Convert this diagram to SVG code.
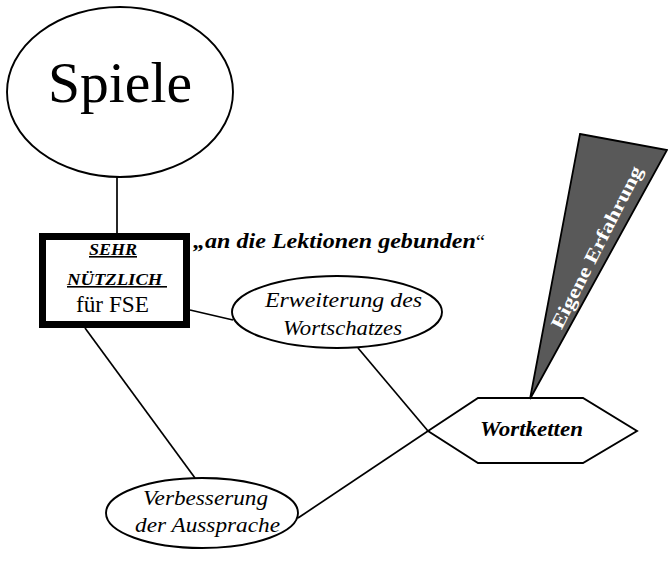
<svg xmlns="http://www.w3.org/2000/svg" width="668" height="566" viewBox="0 0 668 566" font-family="'Liberation Serif', 'Times New Roman', serif">
<style>
.ln{stroke:#000;stroke-width:1.7;fill:none}
.sh{fill:#fff;stroke:#000;stroke-width:1.9}
text{font-family:'Liberation Serif','Times New Roman',serif;fill:#000}
.it{font-style:italic}
.bi{font-style:italic;font-weight:bold}
</style>
<rect width="668" height="566" fill="#fff"/>
<g id="connectors">
<line class="ln" x1="117" y1="176" x2="117" y2="233"/>
<line class="ln" x1="190" y1="310" x2="233" y2="320"/>
<line class="ln" x1="85" y1="328" x2="195" y2="478"/>
<line class="ln" x1="358" y1="348" x2="428" y2="431"/>
<line class="ln" x1="298" y1="518" x2="428" y2="431"/>
</g>
<g id="spiele">
<ellipse class="sh" cx="120" cy="92" rx="113" ry="85"/>
<text x="48" y="102" font-size="58" textLength="144" lengthAdjust="spacingAndGlyphs">Spiele</text>
</g>
<g id="sehr">
<rect x="42.5" y="236.5" width="144" height="88" fill="#fff" stroke="#000" stroke-width="7"/>
<text class="bi" x="89" y="255" font-size="16" textLength="48" lengthAdjust="spacingAndGlyphs" text-decoration="underline">SEHR</text>
<text class="bi" x="67" y="285" font-size="16" textLength="100" lengthAdjust="spacingAndGlyphs" text-decoration="underline" xml:space="preserve">NÜTZLICH </text>
<text x="76" y="312" font-size="23" textLength="73" lengthAdjust="spacingAndGlyphs">für FSE</text>
</g>
<g id="quote">
<text x="193" y="248" font-size="22" textLength="292" lengthAdjust="spacingAndGlyphs"><tspan class="bi">„an die Lektionen gebunden</tspan><tspan font-size="19">“</tspan></text>
</g>
<g id="erweiterung">
<ellipse class="sh" cx="337" cy="312" rx="105" ry="36"/>
<text class="it" x="265" y="307" font-size="20" textLength="157" lengthAdjust="spacingAndGlyphs">Erweiterung des</text>
<text class="it" x="283" y="335" font-size="20" textLength="119" lengthAdjust="spacingAndGlyphs">Wortschatzes</text>
</g>
<g id="verbesserung">
<ellipse class="sh" cx="202" cy="513" rx="96" ry="35"/>
<text class="it" x="143" y="505" font-size="20" textLength="125" lengthAdjust="spacingAndGlyphs">Verbesserung</text>
<text class="it" x="135" y="532" font-size="20" textLength="145" lengthAdjust="spacingAndGlyphs">der Aussprache</text>
</g>
<g id="wortketten">
<polygon class="sh" points="428,431 478,398 583,398 637,431 583,463 478,463"/>
<text class="bi" x="480" y="436" font-size="20" textLength="103" lengthAdjust="spacingAndGlyphs">Wortketten</text>
</g>
<g id="erfahrung">
<polygon points="580,134 667,150 530,399" fill="#595959" stroke="#000" stroke-width="1.8"/>
<text x="-90" y="7" font-size="19" font-weight="bold" style="fill:#fff" textLength="180" lengthAdjust="spacingAndGlyphs" transform="translate(596,247) rotate(-63)">Eigene Erfahrung</text>
</g>
</svg>
